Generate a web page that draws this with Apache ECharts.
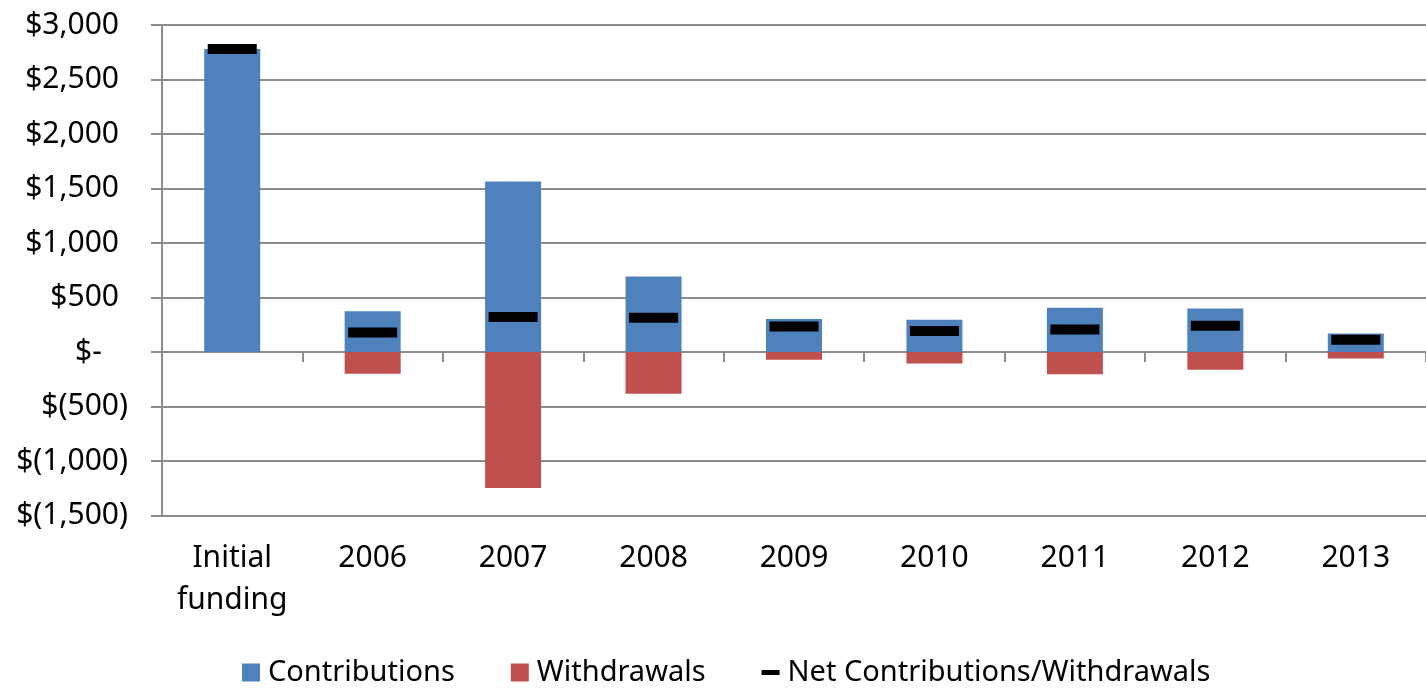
<!DOCTYPE html>
<html>
<head>
<meta charset="utf-8">
<script src="https://cdn.jsdelivr.net/npm/echarts@6/dist/echarts.min.js"></script>
<style>html,body{margin:0;padding:0;background:#fff;}#c{width:1426px;height:688px;}</style>
</head>
<body>
<div id="c"></div>
<script>
var categories = ['Initial\nfunding', '2006', '2007', '2008', '2009', '2010', '2011', '2012', '2013'];
var contributions = [2780, 375, 1565, 692, 303, 295, 407, 398, 169];
var withdrawals = [0, -200, -1248, -382, -72, -106, -204, -162, -60];
var netFlows = [2780, 178, 320, 314, 234, 192, 206, 240, 112];
var yTicks = { min: -1500, max: 3000, step: 500 };

var FONT = '"Noto Sans", "Open Sans", sans-serif';
var GRID = '#8c8c8c';

function fmt(v) {
  if (v === 0) return '{a|$-}{p|0)}';
  var s = Math.abs(v).toString().replace(/\B(?=(\d{3})+(?!\d))/g, ',');
  if (v < 0) return '{a|$(' + s + ')}';
  return '{a|$' + s + '}{p|)}';
}

var chart = echarts.init(document.getElementById('c'));
chart.setOption({
  animation: false,
  textStyle: { fontFamily: FONT },
  grid: { left: 162, right: 0, top: 25, bottom: 172.5 },
  legend: {
    left: 237, top: 653,
    itemWidth: 18, itemHeight: 18, itemGap: 56,
    textStyle: { fontSize: 29, color: '#000', fontFamily: FONT, padding: [0, 0, 0, 3] },
    data: [
      { name: 'Contributions', icon: 'rect' },
      { name: 'Withdrawals', icon: 'rect' },
      { name: 'Net Contributions/Withdrawals', icon: 'path://M0,0 L18,0 L18,5 L0,5 Z' }
    ]
  },
  xAxis: [
    {
      type: 'category', data: categories, position: 'bottom',
      axisLine: { onZero: true, lineStyle: { color: GRID, width: 2 } },
      axisTick: { show: true, length: 10, lineStyle: { color: GRID, width: 2 } },
      axisLabel: { show: false }
    },
    {
      type: 'category', data: categories, position: 'bottom',
      axisLine: { show: false, onZero: false }, axisTick: { show: false },
      axisLabel: { show: true, fontSize: 30, color: '#000', lineHeight: 42, margin: 22, fontFamily: FONT, interval: 0 }
    }
  ],
  yAxis: {
    type: 'value', min: yTicks.min, max: yTicks.max, interval: yTicks.step,
    axisLine: { show: true, lineStyle: { color: GRID, width: 2 } },
    axisTick: { show: true, length: 11, lineStyle: { color: GRID, width: 2 } },
    splitLine: { lineStyle: { color: GRID, width: 2 } },
    axisLabel: {
      margin: 34, formatter: fmt,
      rich: {
        a: { fontSize: 30, color: '#000', fontFamily: FONT },
        p: { fontSize: 30, color: 'rgba(0,0,0,0)', fontFamily: FONT }
      }
    }
  },
  series: [
    { name: 'Contributions', type: 'bar', data: contributions, barWidth: 56, barGap: '-100%',
      itemStyle: { color: '#4F81BD' } },
    { name: 'Withdrawals', type: 'bar', data: withdrawals, barWidth: 56, barGap: '-100%',
      itemStyle: { color: '#C0504D' } },
    { name: 'Net Contributions/Withdrawals', type: 'scatter', data: netFlows,
      symbol: 'rect', symbolSize: [49, 10], itemStyle: { color: '#000', opacity: 1 }, z: 5 }
  ]
});
</script>
</body>
</html>
